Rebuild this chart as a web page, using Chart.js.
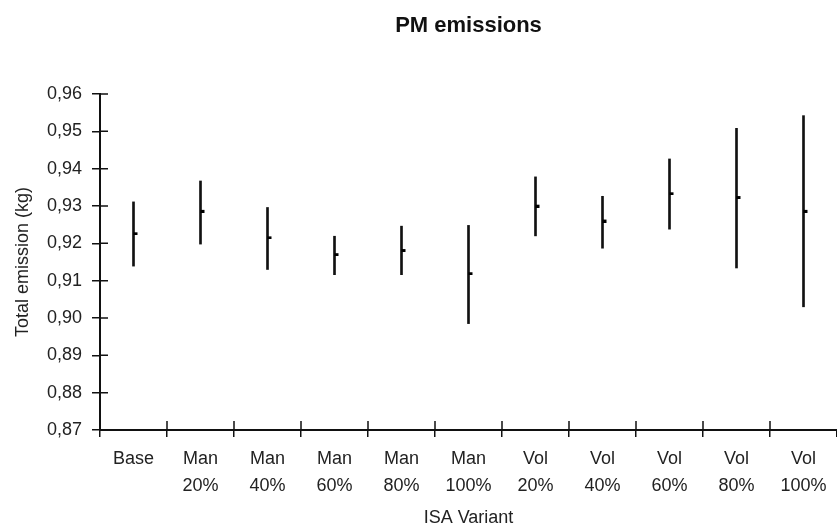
<!DOCTYPE html>
<html>
<head>
<meta charset="utf-8">
<script src="https://cdn.jsdelivr.net/npm/chart.js@4/dist/chart.umd.min.js"></script>
<style>
  html, body { margin: 0; padding: 0; overflow: hidden; background: #fff; width: 837px; height: 529px; }
  #wrap { position: absolute; left: 0; top: 0; width: 841px; height: 529px; }
</style>
</head>
<body>
<div id="wrap"><canvas id="c" width="841" height="529"></canvas></div>
<script>
const categories = [['Base'], ['Man', '20%'], ['Man', '40%'], ['Man', '60%'], ['Man', '80%'], ['Man', '100%'],
                    ['Vol', '20%'], ['Vol', '40%'], ['Vol', '60%'], ['Vol', '80%'], ['Vol', '100%']];
const meanValues = [0.9227, 0.9287, 0.9216, 0.9171, 0.9182, 0.9120, 0.9301, 0.9261, 0.9334, 0.9324, 0.9287];
const lowValues  = [0.9139, 0.9198, 0.9130, 0.9116, 0.9116, 0.8985, 0.9220, 0.9187, 0.9238, 0.9134, 0.9030];
const highValues = [0.9311, 0.9367, 0.9296, 0.9219, 0.9246, 0.9248, 0.9378, 0.9326, 0.9426, 0.9508, 0.9542];
const yTickLabels = ['0,87', '0,88', '0,89', '0,90', '0,91', '0,92', '0,93', '0,94', '0,95', '0,96'];

const INK = '#111111';
const FONT = "'Liberation Sans', Arial, Helvetica, sans-serif";

// small mean marker drawn just to the right of the range line
const marker = document.createElement('canvas');
marker.width = 10; marker.height = 4;
(function () {
  const m = marker.getContext('2d');
  m.fillStyle = '#000';
  m.fillRect(5, 1, 4, 3);
})();

const innerTicks = {
  id: 'innerTicks',
  afterDraw(chart) {
    const ctx = chart.ctx;
    const a = chart.chartArea;
    const ys = chart.scales.y, xs = chart.scales.x;
    ctx.save();
    ctx.strokeStyle = INK;
    ctx.lineWidth = 1.5;
    ctx.beginPath();
    ys.ticks.forEach(t => {
      const py = ys.getPixelForValue(t.value);
      ctx.moveTo(a.left, py); ctx.lineTo(a.left + 8, py);
    });
    for (let i = 1; i < categories.length; i++) {
      const px = (xs.getPixelForValue(i - 1) + xs.getPixelForValue(i)) / 2;
      ctx.moveTo(px, a.bottom); ctx.lineTo(px, a.bottom - 9);
    }
    ctx.stroke();
    ctx.restore();
  }
};

new Chart(document.getElementById('c'), {
  type: 'bar',
  data: {
    labels: categories,
    datasets: [
      {
        type: 'bar',
        data: lowValues.map((v, i) => [v, highValues[i]]),
        backgroundColor: INK,
        borderWidth: 0,
        barThickness: 2,
        order: 2
      },
      {
        type: 'line',
        data: meanValues,
        showLine: false,
        pointStyle: marker,
        pointRadius: 3,
        pointHoverRadius: 3,
        order: 1
      }
    ]
  },
  plugins: [innerTicks],
  options: {
    responsive: false,
    animation: false,
    events: [],
    layout: { padding: { left: 0, right: 0, top: 0, bottom: 0 } },
    plugins: {
      legend: { display: false },
      tooltip: { enabled: false },
      title: {
        display: true,
        text: 'PM emissions',
        fullSize: false,
        color: INK,
        font: { family: FONT, size: 22, weight: 'bold', lineHeight: 1.2 },
        padding: { top: 13, bottom: 54.6 }
      }
    },
    scales: {
      x: {
        grid: { display: true, drawOnChartArea: false, drawTicks: true, tickLength: 7, color: INK, lineWidth: 1.5, offset: true },
        border: { display: true, color: INK, width: 2 },
        ticks: { color: '#222', font: { family: FONT, size: 18, lineHeight: 1.48 }, padding: 9, maxRotation: 0, autoSkip: false },
        title: { display: true, text: 'ISA Variant', color: '#222', font: { family: FONT, size: 18, lineHeight: 1.2 }, padding: { top: 0, bottom: 0 } },
        afterFit(scale) { scale.height = 99; }
      },
      y: {
        min: 0.87,
        max: 0.96,
        grid: { display: true, drawOnChartArea: false, drawTicks: true, tickLength: 8, color: INK, lineWidth: 1.5 },
        border: { display: true, color: INK, width: 2 },
        ticks: {
          stepSize: 0.01,
          color: '#222',
          font: { family: FONT, size: 18 },
          padding: 10,
          callback: (v, i) => yTickLabels[i]
        },
        title: { display: true, text: 'Total emission (kg)', color: '#222', font: { family: FONT, size: 18, lineHeight: 1.2 }, padding: { top: 12, bottom: 0 } },
        afterFit(scale) { scale.width = 100; }
      }
    }
  }
});
</script>
</body>
</html>
